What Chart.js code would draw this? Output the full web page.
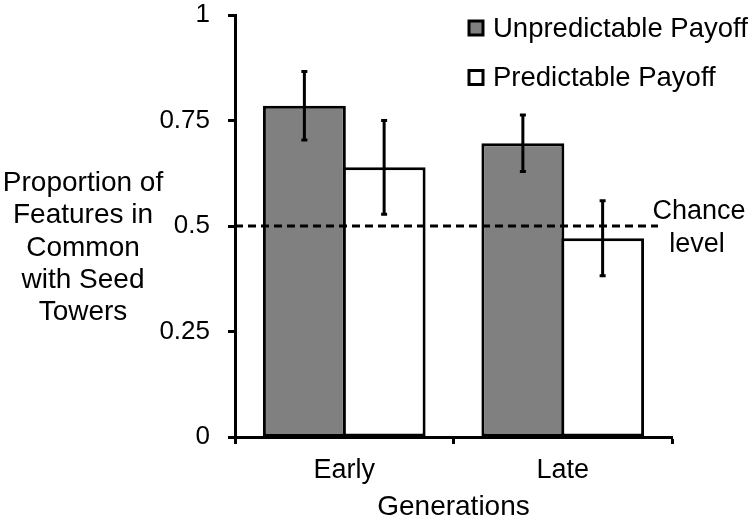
<!DOCTYPE html>
<html>
<head>
<meta charset="utf-8">
<script src="https://cdn.jsdelivr.net/npm/chart.js@4/dist/chart.umd.min.js"></script>
<style>
  html, body { margin: 0; padding: 0; background: #fff; }
  canvas { display: block; }
</style>
</head>
<body>
<canvas id="chart" width="756" height="521"></canvas>
<script>
// data
var generations = ["Early", "Late"];
var seriesNames = ["Unpredictable Payoff", "Predictable Payoff"];
var unpredictable = [0.785, 0.696];
var unpredictableLow = [0.704, 0.629];
var unpredictableHigh = [0.866, 0.763];
var predictable = [0.639, 0.471];
var predictableLow = [0.528, 0.382];
var predictableHigh = [0.750, 0.560];
var yTickLabels = ["0", "0.25", "0.5", "0.75", "1"];
var chanceLevel = 0.5;
var yTitleLines = ["Proportion of", "Features in", "Common", "with Seed", "Towers"];

var FONT = "'Liberation Sans', Arial, sans-serif";

var errorBars = {
    id: 'errorBars',
    afterDatasetsDraw: function (chart) {
        var ctx = chart.ctx;
        var y = chart.scales.y;
        ctx.save();
        ctx.strokeStyle = '#000';
        ctx.lineWidth = 3;
        chart.data.datasets.forEach(function (ds, i) {
            chart.getDatasetMeta(i).data.forEach(function (bar, j) {
                var top = y.getPixelForValue(ds.high[j]);
                var bot = y.getPixelForValue(ds.low[j]);
                ctx.beginPath();
                ctx.moveTo(bar.x, top);
                ctx.lineTo(bar.x, bot);
                ctx.moveTo(bar.x - 3, top);
                ctx.lineTo(bar.x + 3, top);
                ctx.moveTo(bar.x - 3, bot);
                ctx.lineTo(bar.x + 3, bot);
                ctx.stroke();
            });
        });
        ctx.restore();
    }
};

var extras = {
    id: 'extras',
    afterDraw: function (chart) {
        var ctx = chart.ctx;
        var area = chart.chartArea;
        var y = chart.scales.y;
        ctx.save();

        // chance line
        var cy = y.getPixelForValue(chanceLevel);
        ctx.strokeStyle = '#000';
        ctx.lineWidth = 3;
        ctx.setLineDash([8, 5]);
        ctx.beginPath();
        ctx.moveTo(area.left, cy);
        ctx.lineTo(area.right - 14, cy);
        ctx.stroke();
        ctx.setLineDash([]);

        ctx.fillStyle = '#000';
        ctx.font = '27px ' + FONT;
        ctx.textAlign = 'center';
        ctx.textBaseline = 'middle';
        ctx.fillText('Chance', area.right + 27, cy - 14);
        ctx.fillText('level', area.right + 25, cy + 19);

        // y title, horizontal lines
        ctx.font = '28px ' + FONT;
        var mid = (area.top + area.bottom) / 2 + 22;
        yTitleLines.forEach(function (t, i) {
            ctx.fillText(t, 83, mid + (i - 2) * 32.3);
        });

        // legend
        ctx.font = '27.5px ' + FONT;
        ctx.textAlign = 'left';
        chart.data.datasets.forEach(function (ds, i) {
            var ly = area.top + 13 + i * 49.5;
            var lx = area.right - 203;
            ctx.fillStyle = ds.backgroundColor;
            ctx.fillRect(lx, ly - 7, 14, 14);
            ctx.lineWidth = 3;
            ctx.strokeStyle = '#000';
            ctx.strokeRect(lx, ly - 7, 14, 14);
            ctx.fillStyle = '#000';
            ctx.fillText(ds.label, lx + 24, ly + 1);
        });
        ctx.restore();
    }
};

new Chart(document.getElementById('chart').getContext('2d'), {
    type: 'bar',
    data: {
        labels: generations,
        datasets: [
            {
                label: seriesNames[0],
                data: unpredictable,
                low: unpredictableLow,
                high: unpredictableHigh,
                backgroundColor: '#808080',
                borderColor: '#000',
                borderWidth: 3,
                borderSkipped: false
            },
            {
                label: seriesNames[1],
                data: predictable,
                low: predictableLow,
                high: predictableHigh,
                backgroundColor: '#ffffff',
                borderColor: '#000',
                borderWidth: 3,
                borderSkipped: false
            }
        ]
    },
    options: {
        responsive: false,
        animation: false,
        categoryPercentage: 0.73,
        barPercentage: 1.04,
        layout: { padding: { top: 15, right: 84, bottom: 0, left: 0 } },
        plugins: {
            legend: { display: false },
            tooltip: { enabled: false }
        },
        scales: {
            x: {
                grid: {
                    offset: true,
                    drawOnChartArea: false,
                    tickLength: 7,
                    tickWidth: 3,
                    tickColor: '#000'
                },
                border: { display: true, color: '#000', width: 3 },
                ticks: { color: '#000', padding: 10, font: { family: FONT, size: 27 } },
                title: {
                    display: true,
                    text: 'Generations',
                    color: '#000',
                    padding: { top: 0, bottom: 0 },
                    font: { family: FONT, size: 28, lineHeight: 1.0 }
                },
                afterFit: function (scale) { scale.height = 84; }
            },
            y: {
                min: 0,
                max: 1,
                grid: {
                    drawOnChartArea: false,
                    tickLength: 7,
                    tickWidth: 3,
                    tickColor: '#000'
                },
                border: { display: true, color: '#000', width: 3 },
                ticks: {
                    stepSize: 0.25,
                    color: '#000',
                    padding: 18,
                    font: { family: FONT, size: 26 },
                    callback: function (v, i) { return yTickLabels[i]; }
                },
                afterFit: function (scale) {
                    scale.width = 235;
                    scale.paddingTop = 0;
                    scale.paddingBottom = 0;
                }
            }
        }
    },
    plugins: [errorBars, extras]
});
</script>
</body>
</html>
